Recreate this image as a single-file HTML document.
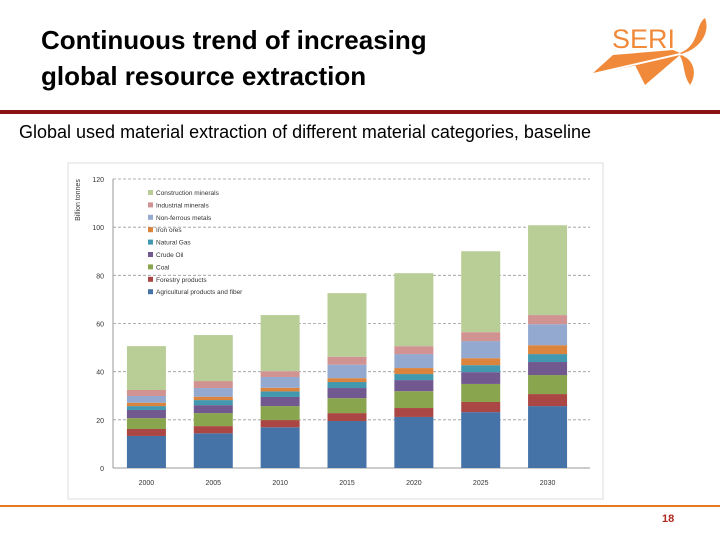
<!DOCTYPE html>
<html><head><meta charset="utf-8"><style>
body{margin:0;width:720px;height:540px;background:#fff;overflow:hidden;position:relative;font-family:"Liberation Sans",sans-serif}
.t{position:absolute;left:41px;top:22px;font-size:26px;font-weight:bold;line-height:36px;color:#000}
.sub{position:absolute;left:19px;top:122px;font-size:18px;color:#000}
</style></head><body>
<div class="t">Continuous trend of increasing<br>global resource extraction</div>
<svg style="position:absolute;left:585px;top:10px" width="130" height="85" viewBox="0 0 130 85">
<text x="27" y="38" font-family="Liberation Sans,sans-serif" font-size="27" fill="#f08a3a">SERI</text>
<polygon points="8,63 28,45 88,40 95,43" fill="#f08a3a"/>
<polygon points="30,60 95,45 60,75 50,55" fill="#f08a3a"/>
<path d="M95,43 C115,35 110,15 120,8 C125,20 118,38 96,44Z" fill="#f08a3a"/>
<path d="M96,45 C110,50 112,65 105,75 C98,65 100,55 95,46Z" fill="#f08a3a"/>
</svg>
<div style="position:absolute;left:0;top:110px;width:720px;height:4px;background:#8b1212"></div>
<div class="sub">Global used material extraction of different material categories, baseline</div>
<div style="position:absolute;left:0;top:505px;width:720px;height:2px;background:#e87722"></div>
<div style="position:absolute;left:662px;top:513px;font-size:11px;font-weight:bold;color:#b0281e">18</div>
<svg id="chart" style="position:absolute;left:0;top:0" width="720" height="540"></svg>
<script>
const years=["2000","2005","2010","2015","2020","2025","2030"];
const seriesNames=["Agricultural products and fiber","Forestry products","Coal","Crude Oil","Natural Gas","Iron ores","Non-ferrous metals","Industrial minerals","Construction minerals"];
const agri=[13.3,14.4,16.9,19.5,21.2,23.2,25.7];
const forestry=[2.9,3.0,3.0,3.3,3.7,4.2,5.0];
const coal=[4.5,5.4,5.8,6.2,7.0,7.5,7.9];
const crude=[3.4,3.3,3.8,4.2,4.6,4.9,5.4];
const gas=[1.6,2.1,2.3,2.5,2.5,2.9,3.3];
const iron=[1.4,1.4,1.5,1.6,2.5,2.9,3.7];
const nonferrous=[2.8,3.6,4.5,5.6,5.8,7.1,8.7];
const industrial=[2.5,2.9,2.4,3.3,3.3,3.7,3.8];
const construction=[18.2,19.1,23.3,26.4,30.3,33.6,37.3];
const yTicks=[0,20,40,60,80,100,120];
const allSeries=[agri,forestry,coal,crude,gas,iron,nonferrous,industrial,construction];
const colors=["#4572a7","#aa4643","#89a54e","#71588f","#4198af","#db843d","#93a9cf","#d19392","#b9cd96"];
const NS="http://www.w3.org/2000/svg";
const svg=document.getElementById('chart');
const x0=113,x1=581,y0=468,y1=179;
const yS=v=>y0-(v/120)*(y0-y1);
const step=(x1-x0)/years.length;
const xS=i=>x0+step*(i+0.5);
const bw=39;
function mk(t,a){const e=document.createElementNS(NS,t);for(const k in a)e.setAttribute(k,a[k]);svg.appendChild(e);return e;}
const bg=mk('rect',{x:68,y:163,width:535,height:336,fill:'#fff',stroke:'#ddd'});


yTicks.forEach(v=>{
 if(v>0){const g=mk('line',{x1:x0,x2:590,y1:yS(v),y2:yS(v),stroke:'#999','stroke-dasharray':'3,2','stroke-width':0.8});
 
 }
 const t=mk('text',{x:104,y:yS(v)+3,'text-anchor':'end','font-size':7,fill:'#333'});t.textContent=v;
 
 
});
const ax=mk('line',{x1:x0,x2:x0,y1:y1,y2:y0,stroke:'#999'});


const xa=mk('line',{x1:x0,x2:590,y1:y0,y2:y0,stroke:'#999'});


const yt=mk('text',{x:0,y:0,transform:'translate(80,200) rotate(-90)','text-anchor':'middle','font-size':7,fill:'#333'});yt.textContent='Billion tonnes';


years.forEach((yr,i)=>{
 let base=0;
 allSeries.forEach((s,k)=>{
  const r=mk('rect',{x:xS(i)-bw/2,y:yS(base+s[i]),width:bw,height:yS(base)-yS(base+s[i]),fill:colors[k]});
  
  
  base+=s[i];
 });
 const t=mk('text',{x:xS(i),y:485,'text-anchor':'middle','font-size':7,fill:'#333'});t.textContent=yr;
 
 
});
for(let k=8;k>=0;k--){
 const row=8-k, y=193+row*12.4;
 const sw=mk('rect',{x:148,y:y-3,width:5,height:5,fill:colors[k]});
 
 
 const t=mk('text',{x:156,y:y+2,'font-size':6.5,fill:'#333'});t.textContent=seriesNames[k];
 
 
}
</script>
</body></html>
